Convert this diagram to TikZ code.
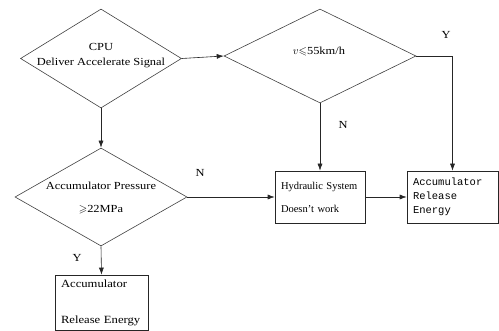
\documentclass[tikz,border=0pt]{standalone}
\usepackage{amsmath,amssymb}
\usepackage{fontspec}
\setmainfont{Liberation Serif}
\setmonofont{Liberation Mono}
\newfontfamily\widefont[FakeStretch=1.15]{Liberation Serif}
\usetikzlibrary{positioning,arrows.meta,shapes.geometric}

\tikzset{
  decision/.style={draw=black!75,diamond,inner sep=0pt,line width=0.6pt},
  block/.style={draw=black!85,rectangle,line width=0.6pt,inner ysep=0pt,inner xsep=6pt,align=left},
  lbl/.style={font=\widefont\fontsize{10.8}{12}\selectfont,align=center},
  flow/.style={->,line width=0.6pt,black!85},
}

\begin{document}
\begin{tikzpicture}[x=1pt,y=-1pt,>={Latex[length=7pt,width=5pt]}]
  \useasboundingbox (0,0) rectangle (499,331);
  % decisions
  \node[decision,minimum width=161pt,minimum height=99pt] (cpu) at (101,58.5) {};
  \node[decision,minimum width=192pt,minimum height=94pt] (speed) at (320,56) {};
  \node[decision,minimum width=172pt,minimum height=98pt] (press) at (101,197) {};
  \node[lbl] (cpu-txt) at (101,56) {CPU\\[3pt]Deliver Accelerate Signal};
  \node[lbl] (speed-txt) at (319,51) {$v{\leqslant}$55km/h};
  \node[lbl] (press-txt) at (101,198) {Accumulator Pressure\\[11pt]$\geqslant$22MPa};
  % boxes
  \node[block,text width=78pt,minimum height=52pt,font=\fontsize{10.5}{12}\selectfont] (hyd) at (320,197) {Hydraulic System\\[11pt]Doesn't work};
  \node[block,text width=79pt,minimum height=52pt,font=\ttfamily\fontsize{10.5}{14}\selectfont] (rel) at (452.5,197) {Accumulator\\Release\\Energy};
  \node[block,text width=81pt,minimum height=55pt,font=\widefont\fontsize{11}{13}\selectfont] (acc) at (101.5,302.5) {Accumulator\\[23pt]Release Energy};
  % branch labels
  \node[lbl] (y-speed) at (446,35) {Y};
  \node[lbl] (n-speed) at (343,125) {N};
  \node[lbl] (n-press) at (200,173) {N};
  \node[lbl] (y-press) at (77,258) {Y};
  % connectors
  \draw[flow] (cpu.east) -- (speed.west);
  \draw[flow] (cpu.south) -- (press.north);
  \draw[flow] (speed.south) -- (hyd.north);
  \draw[flow] (speed.east) -| (rel.north);
  \draw[flow] (press.east) -- (hyd.west);
  \draw[flow] (hyd.east) -- (rel.west);
  \draw[flow] (press.south) -- (acc.north);
\end{tikzpicture}
\end{document}
